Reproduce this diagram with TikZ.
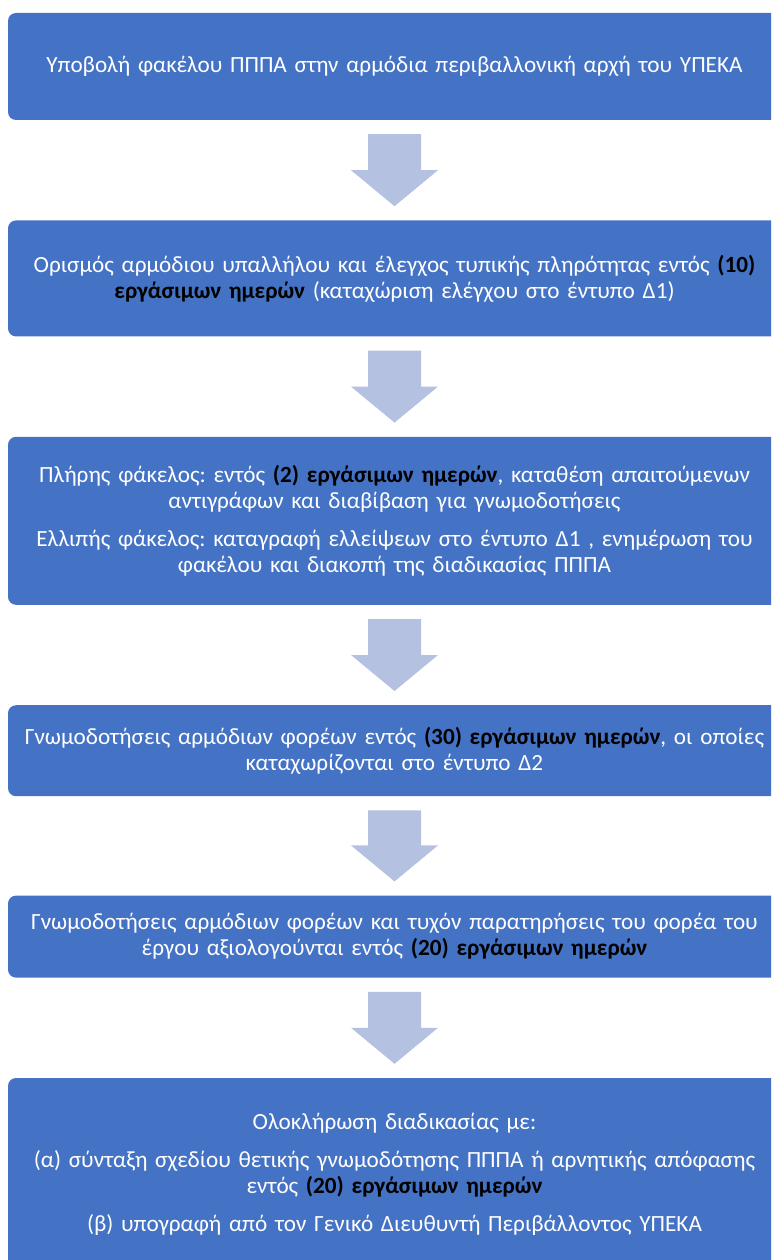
\documentclass[tikz,border=0pt]{standalone}
\usepackage{fontspec}
\setmainfont{Carlito}
\usepackage{tikz}
\usetikzlibrary{positioning}

\definecolor{boxblue}{RGB}{68,114,196}
\definecolor{arrowblue}{RGB}{180,193,225}
\newcommand{\deadline}[1]{\textbf{\color{black}#1}}
\frenchspacing

\begin{document}
\begin{tikzpicture}[x=1pt,y=1pt,node distance=100pt]
		\tikzstyle{stage}=[rectangle, rounded corners=8pt, fill=boxblue, text=white, align=center, text width=761pt, inner xsep=6pt, inner ysep=0pt, font=\fontsize{23.2}{26}\selectfont]
		\tikzstyle{flow arrow}=[fill=arrowblue]

		\clip (0,0) rectangle (771,-1260);

		\node [stage, minimum height=107pt] (box1) at (394.5,-66.5) {Υποβολή φακέλου ΠΠΠΑ στην αρμόδια περιβαλλονική αρχή του ΥΠΕΚΑ};
		\node [stage, minimum height=116pt] (box2) [below=of box1] {Ορισμός αρμόδιου υπαλλήλου και έλεγχος τυπικής πληρότητας εντός \deadline{(10)}\\ \deadline{εργάσιμων ημερών} (καταχώριση ελέγχου στο έντυπο Δ1)};
		\node [stage, minimum height=168pt] (box3) [below=of box2] {Πλήρης φάκελος: εντός \deadline{(2) εργάσιμων ημερών}, καταθέση απαιτούμενων\\ αντιγράφων και διαβίβαση για γνωμοδοτήσεις\\[12pt] Ελλιπής φάκελος: καταγραφή ελλείψεων στο έντυπο Δ1 , ενημέρωση του\\ φακέλου  και διακοπή της διαδικασίας ΠΠΠΑ};
		\node [stage, minimum height=91pt] (box4) [below=of box3] {Γνωμοδοτήσεις αρμόδιων φορέων εντός \deadline{(30) εργάσιμων ημερών}, οι οποίες\\ καταχωρίζονται  στο έντυπο Δ2};
		\node [stage, minimum height=82pt] (box5) [below=99pt of box4] {Γνωμοδοτήσεις αρμόδιων φορέων και τυχόν παρατηρήσεις του φορέα του\\ έργου αξιολογούνται εντός \deadline{(20) εργάσιμων ημερών}};
		\node [stage, minimum height=193pt] (box6) [below=of box5] {Ολοκλήρωση διαδικασίας με:\\[12pt] (α) σύνταξη σχεδίου θετικής γνωμοδότησης ΠΠΠΑ ή αρνητικής απόφασης\\ εντός \deadline{(20) εργάσιμων ημερών}\\[12pt] (β) υπογραφή από τον Γενικό Διευθυντή Περιβάλλοντος ΥΠΕΚΑ};

		\foreach \a/\b in {box1/box2,box2/box3,box3/box4,box4/box5,box5/box6}
			\fill [flow arrow] ([xshift=-26.5pt,yshift=-14pt]\a.south) -- ([xshift=26.5pt,yshift=-14pt]\a.south)
				-- ([xshift=26.5pt,yshift=50pt]\b.north) -- ([xshift=43.5pt,yshift=50pt]\b.north)
				-- ([yshift=14pt]\b.north) -- ([xshift=-43.5pt,yshift=50pt]\b.north)
				-- ([xshift=-26.5pt,yshift=50pt]\b.north) -- cycle;
	\end{tikzpicture}
\end{document}
